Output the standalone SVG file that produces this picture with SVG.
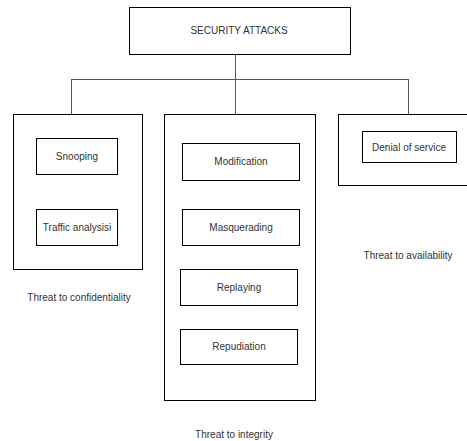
<svg xmlns="http://www.w3.org/2000/svg" width="467" height="441" viewBox="0 0 467 441">
<style>
.box{fill:#fff;stroke:#000;stroke-width:1}
.con{fill:none;stroke:#555;stroke-width:1}
text{font-family:"Liberation Sans",Arial,sans-serif;font-size:10px;fill:#333;text-anchor:middle}
</style>
<rect width="467" height="441" fill="#fff"/>
<g id="connectors">
<path class="con" d="M235.5 54V114.5M71.5 79.5H408.5M71.5 79V114.5M408.5 79V114.5"/>
</g>
<g id="security-attacks">
<rect class="box" x="129.5" y="7.5" width="221" height="47"/>
<text x="239" y="34">SECURITY ATTACKS</text>
</g>
<g id="confidentiality">
<rect class="box" x="13.5" y="114.5" width="129" height="155"/>
<text x="79" y="301">Threat to confidentiality</text>
</g>
<g id="snooping">
<rect class="box" x="36.5" y="138.5" width="81" height="36"/>
<text x="77" y="159.5">Snooping</text>
</g>
<g id="traffic-analysis">
<rect class="box" x="36.5" y="209.5" width="81" height="36"/>
<text x="77" y="230.5">Traffic analysisi</text>
</g>
<g id="integrity">
<rect class="box" x="164.5" y="114.5" width="151" height="286"/>
<text x="234" y="438">Threat to integrity</text>
</g>
<g id="modification">
<rect class="box" x="182.5" y="143.5" width="117" height="37"/>
<text x="241" y="165">Modification</text>
</g>
<g id="masquerading">
<rect class="box" x="182.5" y="209.5" width="117" height="36"/>
<text x="241" y="230.5">Masquerading</text>
</g>
<g id="replaying">
<rect class="box" x="180.5" y="269.5" width="117" height="36"/>
<text x="239" y="290.5">Replaying</text>
</g>
<g id="repudiation">
<rect class="box" x="180.5" y="329.5" width="117" height="35"/>
<text x="239" y="350">Repudiation</text>
</g>
<g id="availability">
<rect class="box" x="338.5" y="114.5" width="140" height="71"/>
<text x="408" y="258.5">Threat to availability</text>
</g>
<g id="denial-of-service">
<rect class="box" x="362.5" y="131.5" width="94" height="31"/>
<text x="409" y="150.5">Denial of service</text>
</g>
</svg>
